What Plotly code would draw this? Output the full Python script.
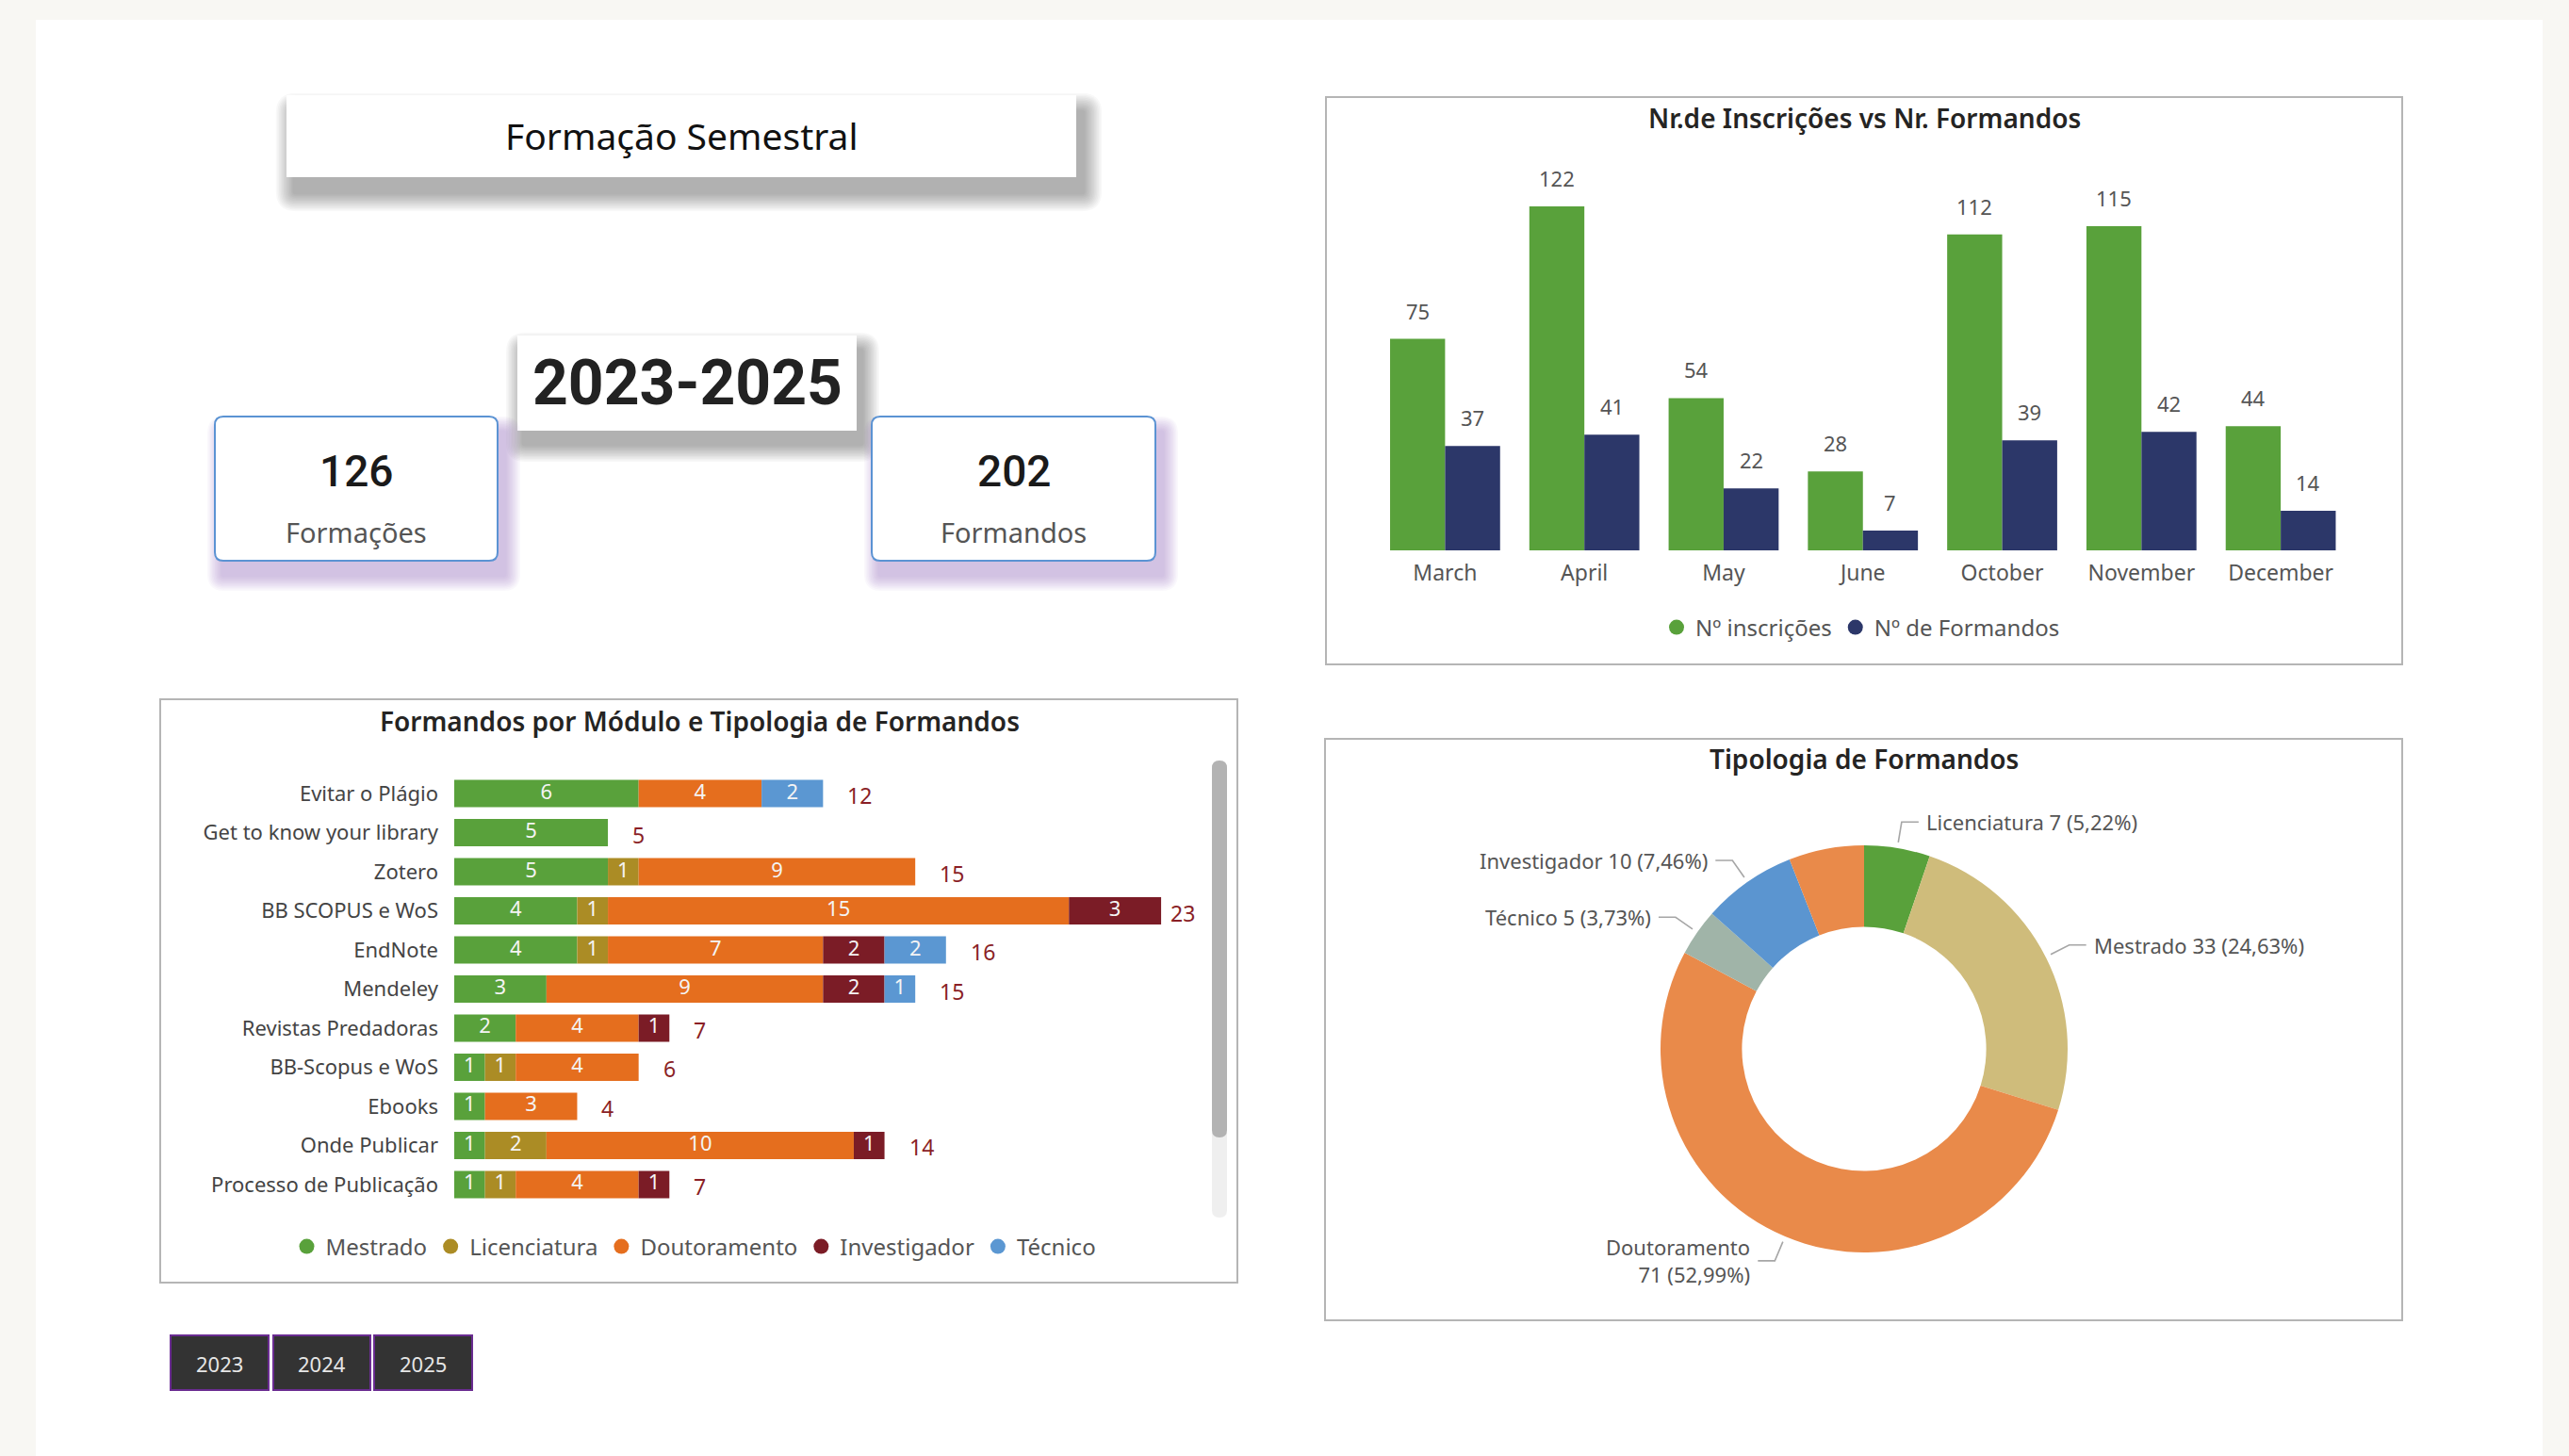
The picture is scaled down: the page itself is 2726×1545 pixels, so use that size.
import math
import plotly.graph_objects as go

W, H = 2726, 1545


def X(px):
    return px / W


def Y(py):
    return 1 - py / H


FONT = "Noto Sans"
NUMFONT = "Roboto"

# ---------------- data ----------------
months = ["March", "April", "May", "June", "October", "November", "December"]
inscricoes = [75, 122, 54, 28, 112, 115, 44]
formandos_mes = [37, 41, 22, 7, 39, 42, 14]

modulos = ["Evitar o Plágio", "Get to know your library", "Zotero", "BB SCOPUS e WoS",
           "EndNote", "Mendeley", "Revistas Predadoras", "BB-Scopus e WoS", "Ebooks",
           "Onde Publicar", "Processo de Publicação"]
mestrado = [6, 5, 5, 4, 4, 3, 2, 1, 1, 1, 1]
licenciatura = [0, 0, 1, 1, 1, 0, 0, 1, 0, 2, 1]
doutoramento = [4, 0, 9, 15, 7, 9, 4, 4, 3, 10, 4]
investigador = [0, 0, 0, 3, 2, 2, 1, 0, 0, 1, 1]
tecnico = [2, 0, 0, 0, 2, 1, 0, 0, 0, 0, 0]

tipologia = ["Licenciatura", "Mestrado", "Doutoramento", "Técnico", "Investigador", "(sem rótulo)"]
tipologia_val = [7, 33, 71, 5, 10, 8]
tipologia_show = [True, True, True, True, True, False]

kpi_values = ["126", "202"]
kpi_labels = ["Formações", "Formandos"]
years = ["2023", "2024", "2025"]
periodo = "2023-2025"
titulo = "Formação Semestral"

# ---------------- colours ----------------
GREEN = "#59a13b"
NAVY = "#2c3769"
C_M = "#59a13b"
C_L = "#ab8c25"
C_D = "#e56e1e"
C_I = "#7b1c26"
C_T = "#5b97d2"
PIE_COLORS = ["#59a13b", "#cfbc7b", "#e98a4a", "#a0b4a8", "#5b95d0", "#e98a4a"]

shapes = []
annotations = []


def rect(x0, y0, x1, y1, fill, line=None, lw=0, layer="below"):
    shapes.append(dict(type="rect", xref="paper", yref="paper",
                       x0=X(x0), x1=X(x1), y0=Y(y1), y1=Y(y0),
                       fillcolor=fill,
                       line=dict(color=line or "rgba(0,0,0,0)", width=lw),
                       layer=layer))


def rrect(x0, y0, x1, y1, r, fill, line=None, lw=0, layer="below"):
    p = (f"M {X(x0 + r)},{Y(y0)} L {X(x1 - r)},{Y(y0)} Q {X(x1)},{Y(y0)} {X(x1)},{Y(y0 + r)} "
         f"L {X(x1)},{Y(y1 - r)} Q {X(x1)},{Y(y1)} {X(x1 - r)},{Y(y1)} "
         f"L {X(x0 + r)},{Y(y1)} Q {X(x0)},{Y(y1)} {X(x0)},{Y(y1 - r)} "
         f"L {X(x0)},{Y(y0 + r)} Q {X(x0)},{Y(y0)} {X(x0 + r)},{Y(y0)} Z")
    shapes.append(dict(type="path", xref="paper", yref="paper", path=p,
                       fillcolor=fill,
                       line=dict(color=line or "rgba(0,0,0,0)", width=lw),
                       layer=layer))


def shadow(x0, y0, x1, y1, dx, dy, rgb, alpha, n, step):
    for k in range(n):
        e = (n - k) * step
        rrect(x0 + dx - e, y0 + dy - e, x1 + dx + e, y1 + dy + e, e + 2,
              f"rgba({rgb},{alpha})")


def text(x, y, s, size, color="#222", family=FONT, weight=None, xanchor="center",
         yanchor="middle", align="center"):
    f = dict(size=size, color=color, family=family)
    if weight:
        f["weight"] = weight
    annotations.append(dict(xref="paper", yref="paper", x=X(x), y=Y(y), text=s,
                            showarrow=False, font=f, xanchor=xanchor, yanchor=yanchor,
                            align=align))


# ---------------- background ----------------
rect(38, 21, 2698, 1545, "#ffffff")

# title box
shadow(304, 101, 1142, 188, 8, 17, "0,0,0", 0.026, 12, 1.6)
rect(304, 101, 1142, 188, "#ffffff")
text(723, 143, titulo, 39, "#111")

# period box
shadow(549, 356, 909, 457, 6, 15, "0,0,0", 0.026, 12, 1.5)
rect(549, 356, 909, 457, "#ffffff")
text(729, 406, periodo, 66, "#222", family=NUMFONT, weight=700)

# KPI cards
for (x0, x1), v, lab in zip([(228, 528), (925, 1226)], kpi_values, kpi_labels):
    shadow(x0, 442, x1, 595, 8, 16, "150,100,195", 0.042, 10, 1.6)
    rrect(x0, 442, x1, 595, 9, "#ffffff", "#5b93d3", 2)
    cx = (x0 + x1) / 2
    text(cx, 500, v, 46, "#1a1a1a", family=NUMFONT, weight=500)
    text(cx, 564, lab, 29, "#555555")

# panels
rect(1407, 103, 2549, 705, "#ffffff", "#b5b5b5", 2)
rect(170, 742, 1313, 1361, "#ffffff", "#b5b5b5", 2)
rect(1406, 784, 2549, 1401, "#ffffff", "#b5b5b5", 2)

# scrollbar
rrect(1286, 807, 1302, 1292, 8, "#efefef")
rrect(1286, 807, 1302, 1207, 8, "#b3b3b3")

# year buttons
for (x0, x1), yr in zip([(181, 285), (290, 393), (397, 501)], years):
    rect(x0, 1417, x1, 1475, "#333333", "#6a2c91", 2)
    text((x0 + x1) / 2, 1447, yr, 22, "#e6e6e6")

# panel titles
text(1978, 125, "Nr.de Inscrições vs Nr. Formandos", 28, "#252423", weight=600)
text(742, 765, "Formandos por Módulo e Tipologia de Formandos", 28, "#252423", weight=600)
text(1978, 805, "Tipologia de Formandos", 28, "#252423", weight=600)

traces = []

# ---------------- chart 1: grouped bars ----------------
BW = 0.395
X1_D0, X1_D1 = 1459.5, 2494
cat_px = (X1_D1 - X1_D0) / len(months)
traces.append(go.Bar(x=months, y=inscricoes, marker=dict(color=GREEN, line=dict(width=0)),
                     offset=-BW, width=BW, xaxis="x", yaxis="y", showlegend=False,
                     name="Nº inscrições"))
traces.append(go.Bar(x=months, y=formandos_mes, marker=dict(color=NAVY, line=dict(width=0)),
                     offset=0, width=BW, xaxis="x", yaxis="y", showlegend=False,
                     name="Nº de Formandos"))
for vals, sgn in [(inscricoes, -1), (formandos_mes, 1)]:
    for m, v in zip(months, vals):
        annotations.append(dict(xref="x", yref="y", x=m, y=v, text=str(v), showarrow=False,
                                xanchor="center", yanchor="bottom",
                                xshift=sgn * BW / 2 * cat_px, yshift=13,
                                font=dict(size=22, color="#555555", family=FONT)))
for nm, col in [("Nº inscrições", GREEN), ("Nº de Formandos", NAVY)]:
    traces.append(go.Scatter(x=[None], y=[None], mode="markers", name=nm,
                             marker=dict(symbol="circle", size=18, color=col),
                             xaxis="x", yaxis="y", legend="legend"))

# ---------------- chart 2: stacked horizontal bars ----------------
X2_D0, X2_D1, X2_MAX = 482, 1281, 24.5
unit_px = (X2_D1 - X2_D0) / X2_MAX
series = [("Mestrado", mestrado, C_M), ("Licenciatura", licenciatura, C_L),
          ("Doutoramento", doutoramento, C_D), ("Investigador", investigador, C_I),
          ("Técnico", tecnico, C_T)]
base = [0] * len(modulos)
for nm, vals, col in series:
    traces.append(go.Bar(y=modulos, x=vals, base=list(base), orientation="h",
                         marker=dict(color=col, line=dict(width=0)),
                         offset=-0.35, width=0.7, xaxis="x2", yaxis="y2",
                         showlegend=False, name=nm))
    mx = [b + v / 2 for b, v in zip(base, vals) if v > 0]
    my = [m for m, v in zip(modulos, vals) if v > 0]
    mt = [str(v) for v in vals if v > 0]
    traces.append(go.Scatter(x=mx, y=my, text=mt, mode="text",
                             textfont=dict(size=22, color="#f4f4f4", family=FONT),
                             xaxis="x2", yaxis="y2", showlegend=False, hoverinfo="skip"))
    base = [b + v for b, v in zip(base, vals)]
    traces.append(go.Scatter(x=[None], y=[None], mode="markers", name=nm,
                             marker=dict(symbol="circle", size=18, color=col),
                             xaxis="x2", yaxis="y2", legend="legend2"))

totals = base
for m, t in zip(modulos, totals):
    end_px = X2_D0 + t * unit_px
    shift = min(24, 1240 - end_px)
    annotations.append(dict(xref="x2", yref="y2", x=t, y=m, text=str(t), showarrow=False,
                            xanchor="left", yanchor="middle", xshift=shift, yshift=-2,
                            font=dict(size=23, color="#8a1f26", family=FONT)))

# ---------------- chart 3: donut ----------------
CX, CY, R = 1978, 1113, 216
traces.append(go.Pie(labels=tipologia, values=tipologia_val, hole=0.6, sort=False,
                     direction="clockwise", rotation=0,
                     marker=dict(colors=PIE_COLORS, line=dict(width=0)),
                     textinfo="none", showlegend=False,
                     domain=dict(x=[X(CX - R), X(CX + R)], y=[Y(CY + R), Y(CY - R)])))

total = sum(tipologia_val)
cum = 0
for lab, v, show in zip(tipologia, tipologia_val, tipologia_show):
    mid = (cum + v / 2) / total * 2 * math.pi
    cum += v
    if not show:
        continue
    s, c = math.sin(mid), math.cos(mid)
    p0 = (CX + (R + 6) * s, CY - (R + 6) * c)
    p1 = (CX + (R + 28) * s, CY - (R + 28) * c)
    side = 1 if s > 0 else -1
    p2 = (p1[0] + side * 18, p1[1])
    shapes.append(dict(type="path", xref="paper", yref="paper",
                       path=f"M {X(p0[0])},{Y(p0[1])} L {X(p1[0])},{Y(p1[1])} L {X(p2[0])},{Y(p2[1])}",
                       line=dict(color="#a6a6a6", width=1.6), layer="above"))
    pct = f"{v / total * 100:.2f}".replace(".", ",")
    if lab == "Doutoramento":
        s_txt = f"{lab}<br>{v} ({pct}%)"
    else:
        s_txt = f"{lab} {v} ({pct}%)"
    text(p2[0] + side * 6, p2[1], s_txt, 22, "#555555",
         xanchor="left" if side > 0 else "right", align="left" if side > 0 else "right")

fig = go.Figure(data=traces)
fig.update_layout(
    width=W, height=H, margin=dict(l=0, r=0, t=0, b=0),
    paper_bgcolor="#f8f7f3", plot_bgcolor="rgba(0,0,0,0)",
    barmode="overlay", font=dict(family=FONT, color="#555555"),
    shapes=shapes, annotations=annotations, hovermode=False,
    xaxis=dict(domain=[X(X1_D0), X(X1_D1)], anchor="y", showgrid=False, zeroline=False,
               showline=False, ticks="", tickfont=dict(size=23, color="#555555"),
               ticklabelstandoff=8, fixedrange=True),
    yaxis=dict(domain=[Y(584), Y(195)], anchor="x", range=[0, 130], visible=False,
               fixedrange=True),
    xaxis2=dict(domain=[X(X2_D0), X(X2_D1)], anchor="y2", range=[0, X2_MAX], visible=False,
                fixedrange=True),
    yaxis2=dict(domain=[Y(1280), Y(819)], anchor="x2", categoryorder="array",
                categoryarray=modulos, autorange="reversed", showgrid=False,
                zeroline=False, showline=False, ticks="",
                tickfont=dict(size=22, color="#444444"), ticklabelstandoff=16,
                fixedrange=True),
    legend=dict(orientation="h", x=X(1975), xanchor="center", y=Y(666), yanchor="middle",
                font=dict(size=24, color="#555555"), bgcolor="rgba(0,0,0,0)",
                itemwidth=30, itemclick=False, itemdoubleclick=False),
    legend2=dict(orientation="h", x=X(737), xanchor="center", y=Y(1323), yanchor="middle",
                 font=dict(size=24, color="#555555"), bgcolor="rgba(0,0,0,0)",
                 itemwidth=30, itemclick=False, itemdoubleclick=False),
)

fig.write_html("out.html", config={"displayModeBar": False},
               post_script="document.body.style.margin='0';document.body.style.overflow='hidden';")
